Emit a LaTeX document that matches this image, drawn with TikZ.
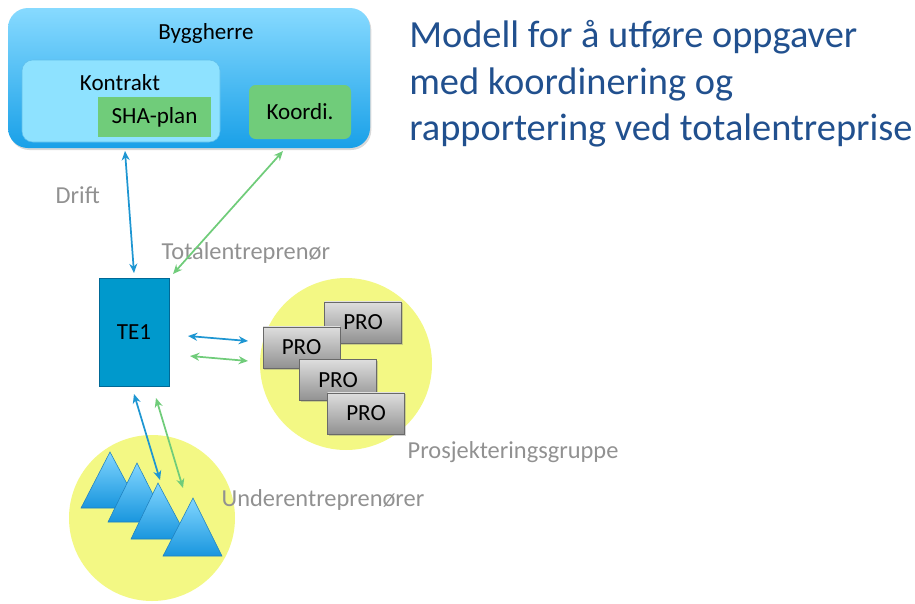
\documentclass[tikz,border=0pt]{standalone}
\usepackage{fontspec}
\setmainfont{Carlito}
\usetikzlibrary{arrows.meta,shadows}
\definecolor{bhTop}{RGB}{135,218,255}
\definecolor{bhBottom}{RGB}{25,160,232}
\definecolor{kontraktFill}{RGB}{142,226,255}
\definecolor{kontraktLine}{RGB}{95,190,235}
\definecolor{planGreen}{RGB}{112,204,122}
\definecolor{teBlue}{RGB}{0,153,204}
\definecolor{teLine}{RGB}{0,105,150}
\definecolor{blobYellow}{RGB}{243,248,132}
\definecolor{proLight}{RGB}{222,222,222}
\definecolor{proDark}{RGB}{145,145,145}
\definecolor{proLine}{RGB}{105,105,105}
\definecolor{triLight}{RGB}{130,214,255}
\definecolor{triDark}{RGB}{25,150,222}
\definecolor{triLine}{RGB}{30,128,190}
\definecolor{arrowBlue}{RGB}{30,150,210}
\definecolor{arrowGreen}{RGB}{112,204,122}
\definecolor{labelGrey}{RGB}{145,145,145}
\definecolor{titleBlue}{RGB}{33,80,142}
\begin{document}
\begin{tikzpicture}[x=0.75pt,y=-0.75pt,
        >={Stealth[length=7pt,width=6pt]},
        lbl/.style={font=\fontsize{17.3}{20}\selectfont},
        greylbl/.style={font=\fontsize{18.3}{22}\selectfont,text=labelGrey,anchor=base west},
        titlelbl/.style={font=\fontsize{28.8}{34}\selectfont,text=titleBlue,anchor=base west,inner sep=0pt},
        plan/.style={fill=planGreen,lbl,minimum width=84.75pt,minimum height=30pt},
        probox/.style={draw=proLine,top color=proLight,bottom color=proDark,lbl,
            minimum width=57.75pt,minimum height=31pt,
            drop shadow={opacity=0.35,shadow xshift=1pt,shadow yshift=-1pt}},
        blob/.style={circle,fill=blobYellow,inner sep=0pt},
        tri/.style={draw=triLine,top color=triLight,bottom color=triDark},
        bluearrow/.style={<->,draw=arrowBlue,line width=1.3pt},
        greenarrow/.style={<->,draw=arrowGreen,line width=1.3pt}]
    \useasboundingbox (0,0) rectangle (915,604);
    \node[rounded corners=15pt,top color=bhTop,bottom color=bhBottom,minimum width=271.5pt,minimum height=105pt,
        drop shadow={opacity=0.3,shadow xshift=1pt,shadow yshift=-1.5pt}] (byggherre) at (189,78) {};
    \node[lbl] (byggherreTxt) at (206,33) {Byggherre};
    \node[draw=kontraktLine,rounded corners=8pt,fill=kontraktFill,minimum width=148.5pt,minimum height=61.5pt] (kontrakt) at (121,101) {};
    \node[lbl] (kontraktTxt) at (120,83) {Kontrakt};
    \node[plan] (sha) at (154.5,117) {SHA-plan};
    \node[plan,rounded corners=5pt,minimum width=76.5pt,minimum height=40.5pt] (koordi) at (300,112) {Koordi.};
    \node[titlelbl] (title1) at (409,47) {Modell for å utføre oppgaver};
    \node[titlelbl] (title2) at (409,94) {med koordinering og};
    \node[titlelbl] (title3) at (409,140) {rapportering ved totalentreprise};
    \node[greylbl] (drift) at (51,203) {Drift};
    \node[greylbl] (totalTxt) at (157,259) {Totalentreprenør};
    \node[draw=teLine,fill=teBlue,lbl,minimum width=52.5pt,minimum height=81pt] (te1) at (134,332) {TE1};
    \node[blob,minimum size=129pt] (proBlob) at (346,364) {};
    \node[probox] (pro1) at (363,322.5) {PRO};
    \node[probox] (pro2) at (301.5,347.5) {PRO};
    \node[probox] (pro3) at (338,380) {PRO};
    \node[probox] (pro4) at (366,413.5) {PRO};
    \node[greylbl] (proTxt) at (403,458) {Prosjekteringsgruppe};
    \node[blob,minimum size=124.5pt] (ueBlob) at (152,518) {};
    \shade[tri] (81,508) -- (110,452) -- (140,508) -- cycle;
    \shade[tri] (108,522) -- (137,463) -- (167,522) -- cycle;
    \shade[tri] (131,539) -- (158,483) -- (188,539) -- cycle;
    \shade[tri] (163,556) -- (193,498) -- (222,556) -- cycle;
    \node[greylbl] (ueTxt) at (217,506) {Underentreprenører};
    \coordinate (driftTop) at (125,151);
    \coordinate (driftBot) at (134,273);
    \coordinate (koordTop) at (283,151);
    \coordinate (koordBot) at (173,274);
    \coordinate (proBlueL) at (188,336);
    \coordinate (proBlueR) at (248,341);
    \coordinate (proGreenL) at (190,356);
    \coordinate (proGreenR) at (248,361);
    \coordinate (ueBlueTop) at (134,394);
    \coordinate (ueBlueBot) at (160,480);
    \coordinate (ueGreenTop) at (156,398);
    \coordinate (ueGreenBot) at (183,488);
    \draw[bluearrow] (driftTop) -- (driftBot);
    \draw[greenarrow] (koordTop) -- (koordBot);
    \draw[bluearrow] (proBlueL) -- (proBlueR);
    \draw[greenarrow] (proGreenL) -- (proGreenR);
    \draw[bluearrow] (ueBlueTop) -- (ueBlueBot);
    \draw[greenarrow] (ueGreenTop) -- (ueGreenBot);
\end{tikzpicture}
\end{document}
